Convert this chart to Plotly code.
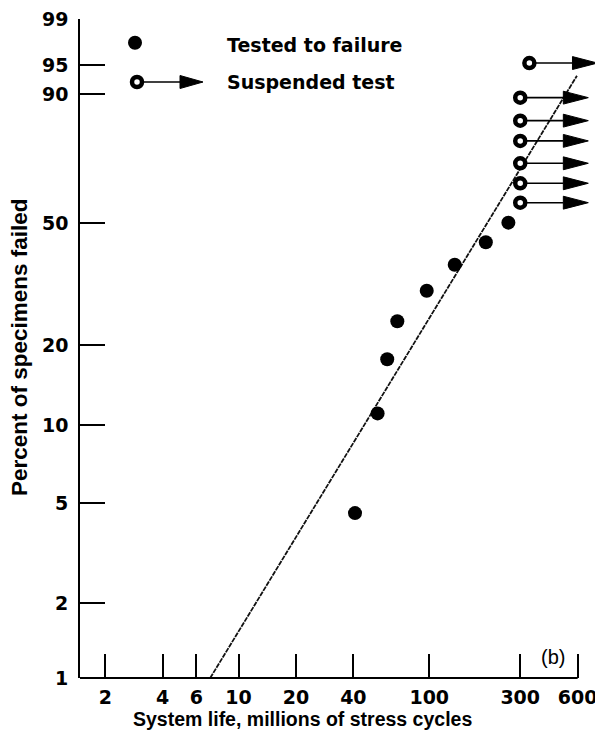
import numpy as np
import plotly.graph_objects as go

# ---------------- data ----------------
failure_life = [40.8, 53.6, 60.2, 68, 97, 136, 198, 260]          # millions of cycles
failure_pct = [4.55, 11.1, 17.7, 24.2, 30.8, 37.4, 43.9, 50.0]     # percent failed
suspended_life = [335, 300, 300, 300, 300, 300, 300]
suspended_pct = [95.3, 89.1, 83.3, 77.3, 70.0, 63.2, 56.6]
fit_life = [7.1, 595]
fit_pct = [1.0, 93.4]
x_tick_vals = [2, 4, 6, 10, 20, 40, 100, 300, 600]
x_tick_text = ["2", "4", "6", "10", "20", "40", "100", "300", "600"]
y_tick_vals = [1, 2, 5, 10, 20, 50, 90, 95, 99]
y_tick_text = ["1", "2", "5", "10", "20", "50", "90", "95", "99"]

# ---------------- layout constants ----------------
OFF = 8                      # page body margin
W, H = 595, 735
ML, MR, MT, MB = 72, 0, 11, 65
X_MIN, X_AXIS_END, X_RANGE_END = 1.474, 600, 815
Y_MIN, Y_MAX = 1, 99
ARROW_DEC = 0.357   # arrow length (decades)
HEAD_DEC = 0.131    # arrow head length (decades)
HEAD_HW = 0.060     # arrow head half height (weibull units)


def weib(p):
    return np.log(-np.log(1 - np.asarray(p, dtype=float) / 100.0))


PW, PH = W - ML - MR, H - MT - MB


def px(x):
    return (x - OFF - ML) / PW


def py(y):
    return (OFF + H - MB - y) / PH


fig = go.Figure()

# fitted line
fig.add_trace(go.Scatter(
    x=fit_life, y=weib(fit_pct), mode="lines",
    line=dict(color="#111111", width=1.8, dash="5px,1px"),
    hoverinfo="skip", showlegend=False))

# failures
fig.add_trace(go.Scatter(
    x=failure_life, y=weib(failure_pct), mode="markers",
    marker=dict(size=14, color="black", line=dict(width=0)),
    showlegend=False))

# suspended tests: arrows
shaft_x, shaft_y, head_x, head_y = [], [], [], []
for s, p in zip(suspended_life, suspended_pct):
    w = float(weib(p))
    tip = s * 10 ** ARROW_DEC
    base = s * 10 ** (ARROW_DEC - HEAD_DEC)
    shaft_x += [s, base, None]
    shaft_y += [w, w, None]
    head_x += [base, tip, base, base, None]
    head_y += [w + HEAD_HW, w, w - HEAD_HW, w + HEAD_HW, None]

fig.add_trace(go.Scatter(x=shaft_x, y=shaft_y, mode="lines",
                         line=dict(color="black", width=1.6),
                         hoverinfo="skip", showlegend=False))
fig.add_trace(go.Scatter(x=head_x, y=head_y, mode="lines", fill="toself",
                         fillcolor="black", line=dict(color="black", width=1),
                         hoverinfo="skip", showlegend=False))
fig.add_trace(go.Scatter(
    x=suspended_life, y=weib(suspended_pct), mode="markers",
    marker=dict(size=10, color="white", line=dict(color="black", width=4.5)),
    showlegend=False))

TICKFONT = dict(family="DejaVu Sans", size=19, color="black", weight="bold")

fig.update_xaxes(
    type="log", range=[np.log10(X_MIN), np.log10(X_RANGE_END)],
    tickvals=x_tick_vals, ticktext=x_tick_text,
    ticks="inside", ticklen=24, tickwidth=2, tickcolor="black",
    showline=False, showgrid=False, zeroline=False,
    tickfont=TICKFONT, ticklabelstandoff=6, ticklabeloverflow="allow")
fig.update_yaxes(
    range=[float(weib(Y_MIN)), float(weib(Y_MAX))],
    tickvals=weib(y_tick_vals),
    ticks="inside", ticklen=25, tickwidth=2, tickcolor="black",
    showline=True, linewidth=2, linecolor="black",
    showgrid=False, zeroline=False, showticklabels=False)

# x axis line only up to the last tick
x_end_paper = (np.log10(X_AXIS_END) - np.log10(X_MIN)) / (np.log10(X_RANGE_END) - np.log10(X_MIN))
shapes = [dict(type="line", xref="paper", yref="paper", x0=0, x1=x_end_paper, y0=0, y1=0,
               line=dict(color="black", width=2))]

# legend glyphs
dot_x, dot_y = px(135), py(42.7)
cir_x, cir_y = px(137), py(82)
shapes.append(dict(type="circle", xref="paper", yref="paper", xsizemode="pixel", ysizemode="pixel",
                   xanchor=dot_x, yanchor=dot_y, x0=-7, x1=7, y0=-7, y1=7,
                   fillcolor="black", line=dict(width=0)))
shapes.append(dict(type="line", xref="paper", yref="paper", xsizemode="pixel", ysizemode="pixel",
                   xanchor=cir_x, yanchor=cir_y, x0=0, x1=44, y0=0, y1=0,
                   line=dict(color="black", width=1.6)))
shapes.append(dict(type="path", xref="paper", yref="paper", xsizemode="pixel", ysizemode="pixel",
                   xanchor=cir_x, yanchor=cir_y, path="M 43,6.5 L 66,0 L 43,-6.5 Z",
                   fillcolor="black", line=dict(color="black", width=1)))
shapes.append(dict(type="circle", xref="paper", yref="paper", xsizemode="pixel", ysizemode="pixel",
                   xanchor=cir_x, yanchor=cir_y, x0=-5, x1=5, y0=-5, y1=5,
                   fillcolor="white", line=dict(color="black", width=4.5)))

LEGFONT = dict(family="DejaVu Sans", size=19, color="black", weight="bold")
TITLEFONT = dict(family="Liberation Sans", size=19.5, color="black", weight="bold")
annotations = [
    dict(text="Tested to failure", x=px(225), y=py(45), xref="paper", yref="paper",
         xanchor="left", yanchor="middle", showarrow=False, font=LEGFONT),
    dict(text="Suspended test", x=px(225), y=py(82), xref="paper", yref="paper",
         xanchor="left", yanchor="middle", showarrow=False, font=LEGFONT),
    dict(text="System life, millions of stress cycles", x=px(302.5), y=py(718.5),
         xref="paper", yref="paper", xanchor="center", yanchor="middle",
         showarrow=False, font=TITLEFONT),
    dict(text="Percent of specimens failed", x=px(19), y=py(347), textangle=-90,
         xref="paper", yref="paper", xanchor="center", yanchor="middle",
         showarrow=False, font=dict(family="Liberation Sans", size=22.5, color="black", weight="bold")),
    dict(text="(b)", x=px(553), y=py(657), xref="paper", yref="paper",
         xanchor="center", yanchor="middle", showarrow=False,
         font=dict(family="Liberation Sans", size=20, color="black")),
]
# y tick labels
for v, t in zip(y_tick_vals, y_tick_text):
    annotations.append(dict(text=t, x=px(70), y=float(weib(v)), xref="paper", yref="y",
                            xanchor="right", yanchor="middle", showarrow=False,
                            font=TICKFONT))

fig.update_layout(
    width=W, height=H, autosize=False,
    margin=dict(l=ML, r=MR, t=MT, b=MB, pad=0),
    paper_bgcolor="white", plot_bgcolor="white",
    shapes=shapes, annotations=annotations, showlegend=False)

fig.write_html("out.html")
